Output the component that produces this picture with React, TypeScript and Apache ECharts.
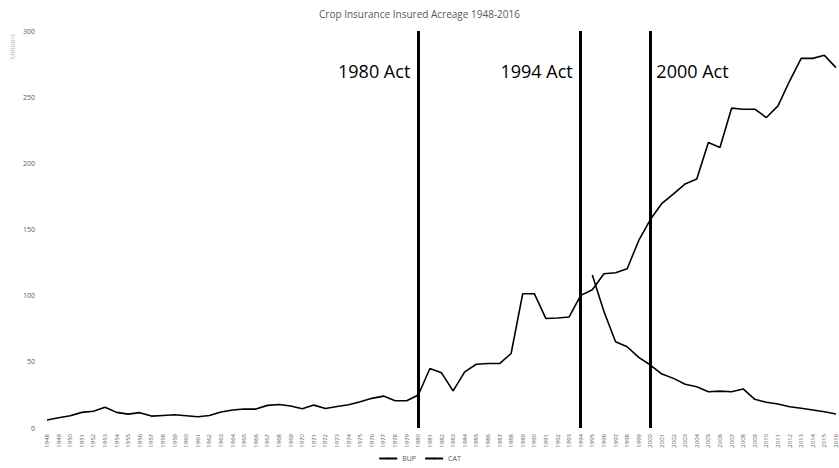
import React, { useEffect, useRef } from "react";
import * as echarts from "echarts";

const years: string[] = [];
for (let y = 1948; y <= 2016; y++) years.push(String(y));

// BUP: 1948-2016 (millions of acres)
const bup: number[] = [
  6.0, 7.8, 9.3, 11.8, 12.6, 15.6, 11.8, 10.5, 11.6, 9.0,
  9.5, 10.0, 9.3, 8.5, 9.5, 12.1, 13.6, 14.3, 14.3, 17.1,
  17.8, 16.6, 14.6, 17.3, 14.8, 16.3, 17.6, 19.8, 22.4, 24.1,
  20.6, 20.6, 24.9, 45.0, 41.7, 28.1, 42.4, 48.2, 48.7, 48.7,
  56.3, 101.5, 101.5, 82.7, 83.1, 83.9, 100.2, 104.5, 116.6, 117.3,
  120.3, 141.7, 157.5, 169.8, 176.9, 184.4, 188.2, 215.8, 212.0, 241.7,
  240.9, 240.9, 234.6, 243.4, 262.2, 279.3, 279.3, 281.6, 272.3,
];

// CAT: starts 1995
const cat: (number | null)[] = [
  ...new Array(47).fill(null),
  115.6, 88.0, 65.2, 61.4, 53.4, 47.6, 40.8, 37.5, 33.0, 31.2,
  27.4, 27.9, 27.4, 29.5, 21.7, 19.4, 18.1, 16.1, 14.9, 13.6,
  12.3, 10.6,
];

const actYears = ["1980", "1994", "2000"];
const actLabels = ["1980 Act", "1994 Act", "2000 Act"];
const actLabelPos = ["left", "left", "right"];
const yTicks = [0, 50, 100, 150, 200, 250, 300];

const FONT = "'Open Sans', 'Noto Sans', sans-serif";
const GRAY = "#595959";

export default function App() {
  const ref = useRef<HTMLDivElement>(null);
  useEffect(() => {
    if (!ref.current) return;
    const chart = echarts.init(ref.current, undefined, { renderer: "svg" });
    chart.setOption({
      animation: false,
      backgroundColor: "#ffffff",
      title: {
        text: "Crop Insurance Insured Acreage 1948-2016",
        left: "center",
        top: 4,
        textStyle: { fontSize: 10, fontWeight: "normal", color: GRAY, fontFamily: FONT },
      },
      legend: {
        bottom: 1,
        left: "center",
        itemWidth: 18,
        itemHeight: 2,
        itemGap: 8,
        textStyle: { fontSize: 7, color: GRAY, fontFamily: FONT },
        data: ["BUP", "CAT"],
      },
      graphic: [
        {
          type: "text",
          left: 9,
          top: 34,
          rotation: Math.PI / 2,
          style: { text: "Millions", fontSize: 7, fill: "#bbbbbb", fontFamily: FONT },
        },
      ],
      grid: { left: 47, right: 3, top: 31, bottom: 40 },
      xAxis: {
        type: "category",
        data: years,
        boundaryGap: false,
        axisLine: { show: false },
        axisTick: { show: false },
        axisLabel: {
          interval: 0,
          rotate: 90,
          fontSize: 6,
          color: GRAY,
          fontFamily: FONT,
          margin: 6,
        },
      },
      yAxis: {
        type: "value",
        min: 0,
        max: 300,
        interval: 50,
        axisLine: { show: false },
        axisTick: { show: false },
        splitLine: { show: false },
        axisLabel: {
          fontSize: 7,
          color: GRAY,
          fontFamily: FONT,
          margin: 12,
          customValues: yTicks,
        },
      },
      series: [
        {
          name: "BUP",
          type: "line",
          data: bup,
          symbol: "none",
          lineStyle: { color: "#000000", width: 1.6 },
          itemStyle: { color: "#000000" },
          markLine: {
            silent: true,
            symbol: "none",
            label: { show: false },
            lineStyle: { color: "#000000", width: 3, type: "solid" },
            data: actYears.map((y) => ({ xAxis: y })),
          },
          markPoint: {
            silent: true,
            symbol: "circle",
            symbolSize: 0,
            data: actYears.map((y, i) => ({
              coord: [y, 270],
              label: {
                show: true,
                position: actLabelPos[i],
                distance: actLabelPos[i] === "left" ? 8 : 6,
                formatter: actLabels[i],
                fontSize: 18,
                color: "#000000",
                fontFamily: "'Open Sans', sans-serif",
              },
            })),
          },
        },
        {
          name: "CAT",
          type: "line",
          data: cat,
          symbol: "none",
          connectNulls: false,
          lineStyle: { color: "#000000", width: 1.6 },
          itemStyle: { color: "#000000" },
        },
      ],
    });
    return () => chart.dispose();
  }, []);
  return (
    <div
      ref={ref}
      style={{ position: "fixed", left: 0, top: 0, width: 839, height: 468 }}
    />
  );
}
